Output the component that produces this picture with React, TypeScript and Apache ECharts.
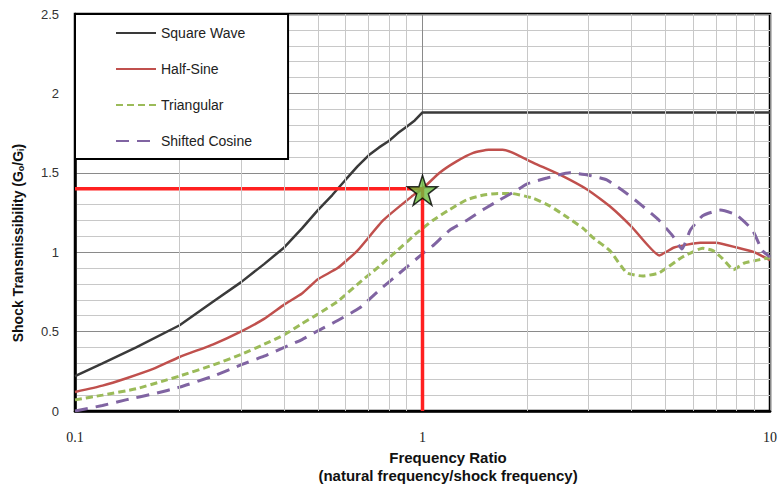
import React, { useEffect, useRef } from "react";
import * as echarts from "echarts";

// ---- data ----
const SQUARE_X = [0.1, 0.12, 0.15, 0.2, 0.25, 0.3, 0.35, 0.4, 0.45, 0.5, 0.55, 0.6, 0.65, 0.7, 0.75, 0.8, 0.85, 0.9, 0.95, 1.0, 10];
const SQUARE_Y = [0.22, 0.3, 0.4, 0.54, 0.69, 0.81, 0.925, 1.03, 1.15, 1.265, 1.36, 1.455, 1.54, 1.61, 1.66, 1.7, 1.75, 1.79, 1.83, 1.88, 1.88];

const HALFSINE_X = [0.1, 0.12, 0.14, 0.17, 0.2, 0.25, 0.3, 0.35, 0.4, 0.45, 0.5, 0.57, 0.65, 0.77, 0.93, 1.0, 1.12, 1.25, 1.4, 1.55, 1.7, 1.8, 2.1, 2.5, 3.0, 3.5, 4.0, 4.8, 5.3, 6.3, 7.0, 8.0, 9.0, 10];
const HALFSINE_Y = [0.12, 0.16, 0.205, 0.27, 0.34, 0.42, 0.5, 0.58, 0.67, 0.74, 0.83, 0.9, 1.01, 1.2, 1.35, 1.4, 1.5, 1.57, 1.625, 1.645, 1.645, 1.63, 1.56, 1.485, 1.39, 1.28, 1.16, 0.98, 1.03, 1.06, 1.06, 1.03, 1.0, 0.95];

const TRIANGULAR_X = [0.1, 0.12, 0.15, 0.18, 0.2, 0.25, 0.3, 0.35, 0.4, 0.45, 0.5, 0.57, 0.66, 0.75, 0.85, 0.95, 1.07, 1.2, 1.34, 1.5, 1.65, 1.8, 2.08, 2.33, 2.61, 2.9, 3.1, 3.46, 3.87, 4.3, 4.8, 5.6, 6.4, 6.85, 7.3, 7.85, 8.4, 9.2, 10];
const TRIANGULAR_Y = [0.07, 0.1, 0.14, 0.19, 0.22, 0.29, 0.355, 0.42, 0.48, 0.55, 0.61, 0.69, 0.81, 0.91, 1.014, 1.11, 1.2, 1.27, 1.33, 1.36, 1.37, 1.37, 1.34, 1.29, 1.22, 1.15, 1.09, 1.01, 0.87, 0.85, 0.87, 0.97, 1.025, 1.01, 0.96, 0.89, 0.93, 0.95, 0.965];

const COSINE_X = [0.1, 0.12, 0.14, 0.17, 0.2, 0.25, 0.3, 0.35, 0.4, 0.45, 0.5, 0.57, 0.66, 0.75, 0.85, 1.0, 1.07, 1.2, 1.34, 1.5, 1.67, 1.87, 2.0, 2.28, 2.65, 3.0, 3.39, 3.87, 4.3, 4.8, 5.26, 5.58, 5.9, 6.4, 7.2, 8.0, 8.9, 9.5, 10];
const COSINE_Y = [0.0, 0.035, 0.07, 0.11, 0.15, 0.22, 0.29, 0.345, 0.4, 0.45, 0.505, 0.57, 0.65, 0.76, 0.86, 0.99, 1.04, 1.14, 1.2, 1.27, 1.33, 1.39, 1.43, 1.467, 1.5, 1.485, 1.455, 1.37, 1.29, 1.2, 1.1, 1.02, 1.14, 1.23, 1.265, 1.235, 1.14, 1.01, 0.97];

const HIGHLIGHT_X = [0.1, 1, 1];
const HIGHLIGHT_Y = [1.4, 1.4, 0];
const STAR_POINT = [1, 1.39];

const MINOR_X = [0.2, 0.3, 0.4, 0.5, 0.6, 0.7, 0.8, 0.9, 2, 3, 4, 5, 6, 7, 8, 9];

const SERIES_NAMES = ["Square Wave", "Half-Sine", "Triangular", "Shifted Cosine"];
const X_TICK_LABELS = ["0.1", "1", "10"];

const zip = (xs: number[], ys: number[]) => xs.map((x, i) => [x, ys[i]]);

const STAR_PATH =
  "path://M50,2 L61.8,37.6 L99,37.6 L69,59.8 L80.4,95.6 L50,73.4 L19.6,95.6 L31,59.8 L1,37.6 L38.2,37.6 Z";

export default function App() {
  const ref = useRef<HTMLDivElement>(null);

  useEffect(() => {
    if (!ref.current) return;
    const chart = echarts.init(ref.current, null, { renderer: "svg" });
    const sans = "'Liberation Sans', Arial, sans-serif";
    const option: any = {
      animation: false,
      backgroundColor: "#ffffff",
      grid: {
        left: 75,
        right: 8,
        top: 14,
        bottom: 78,
        show: true,
        borderColor: "#000",
        borderWidth: 2.5,
        outerBoundsMode: "none",
        containLabel: false,
      },
      legend: {
        data: SERIES_NAMES,
        orient: "vertical",
        left: 75,
        top: 14,
        itemWidth: 40,
        itemHeight: 14,
        itemGap: 22,
        padding: [12, 36, 11, 40],
        backgroundColor: "#fff",
        borderColor: "#000",
        borderWidth: 2,
        itemStyle: { opacity: 0, borderWidth: 0 },
        textStyle: { fontFamily: sans, fontSize: 14, color: "#222" },
        z: 10,
      },
      xAxis: {
        type: "log",
        logBase: 10,
        min: 0.1,
        max: 10,
        axisLine: { show: true, lineStyle: { color: "#000", width: 2.5 } },
        axisTick: { show: false },
        axisLabel: {
          margin: 19,
          fontFamily: "'Liberation Serif', 'Times New Roman', serif",
          fontSize: 14,
          color: "#222",
          formatter: (v: number) => {
            const idx = Math.round(Math.log10(v)) + 1;
            return X_TICK_LABELS[idx] ?? String(v);
          },
        },
        splitLine: { show: true, lineStyle: { color: "#8a8a8a", width: 1 } },
      },
      yAxis: {
        type: "value",
        min: 0,
        max: 2.5,
        interval: 0.5,
        axisLine: { show: true, lineStyle: { color: "#000", width: 2.5 } },
        axisTick: { show: false },
        axisLabel: { margin: 16, fontFamily: sans, fontSize: 13, color: "#333" },
        splitLine: { show: true, lineStyle: { color: "#8a8a8a", width: 1 } },
        minorTick: { show: false, splitNumber: 5 },
        minorSplitLine: { show: true, lineStyle: { color: "#c8c8c8", width: 1 } },
      },
      graphic: [
        {
          type: "text",
          x: 18,
          y: 243,
          rotation: Math.PI / 2,
          style: {
            text: "Shock Transmissibility (G{sub|o}/G{sub|i})",
            fontFamily: sans,
            fontSize: 14,
            fontWeight: "bold",
            fill: "#111",
            align: "center",
            verticalAlign: "middle",
            rich: {
              sub: { fontSize: 9, fontWeight: "bold", fontFamily: sans, verticalAlign: "bottom", padding: [6, 0, 0, 0] },
            },
          },
        },
        {
          type: "text",
          x: 448,
          y: 457,
          style: {
            text: "Frequency Ratio",
            fontFamily: sans,
            fontSize: 15,
            fontWeight: "bold",
            fill: "#111",
            align: "center",
            verticalAlign: "middle",
          },
        },
        {
          type: "text",
          x: 448,
          y: 475,
          style: {
            text: "(natural frequency/shock frequency)",
            fontFamily: sans,
            fontSize: 15,
            fontWeight: "bold",
            fill: "#111",
            align: "center",
            verticalAlign: "middle",
          },
        },
      ],
      series: [
        {
          name: "minor-grid",
          type: "line",
          data: [],
          z: 0,
          silent: true,
          markLine: {
            silent: true,
            symbol: ["none", "none"],
            label: { show: false },
            lineStyle: { color: "#c8c8c8", width: 1, type: "solid" },
            data: MINOR_X.map((x) => ({ xAxis: x })),
            animation: false,
          },
        },
        {
          name: SERIES_NAMES[0],
          type: "line",
          data: zip(SQUARE_X, SQUARE_Y),
          symbol: "none",
          color: "#3a3a3a",
          lineStyle: { color: "#3a3a3a", width: 2.5 },
          z: 3,
        },
        {
          name: SERIES_NAMES[1],
          type: "line",
          data: zip(HALFSINE_X, HALFSINE_Y),
          symbol: "none",
          smooth: 0.15,
          color: "#c0504d",
          lineStyle: { color: "#c0504d", width: 2.5 },
          z: 3,
        },
        {
          name: SERIES_NAMES[2],
          type: "line",
          data: zip(TRIANGULAR_X, TRIANGULAR_Y),
          symbol: "none",
          smooth: 0.15,
          color: "#9bbb59",
          lineStyle: { color: "#9bbb59", width: 3, type: [7, 4] },
          z: 3,
        },
        {
          name: SERIES_NAMES[3],
          type: "line",
          data: zip(COSINE_X, COSINE_Y),
          symbol: "none",
          smooth: 0.15,
          color: "#8064a2",
          lineStyle: { color: "#8064a2", width: 3, type: [13, 8] },
          z: 3,
        },
        {
          name: "highlight",
          type: "line",
          data: zip(HIGHLIGHT_X, HIGHLIGHT_Y),
          symbol: "none",
          color: "#ff2020",
          lineStyle: { color: "#ff2020", width: 3.5 },
          z: 4,
        },
        {
          name: "point",
          type: "scatter",
          data: [STAR_POINT],
          symbol: STAR_PATH,
          symbolSize: 30,
          itemStyle: { color: "#6dbd3f", borderColor: "#000", borderWidth: 1.5 },
          z: 5,
        },
      ],
    };
    chart.setOption(option);
    return () => chart.dispose();
  }, []);

  return (
    <div
      ref={ref}
      style={{ position: "fixed", left: 0, top: 0, width: 778, height: 489 }}
    />
  );
}
